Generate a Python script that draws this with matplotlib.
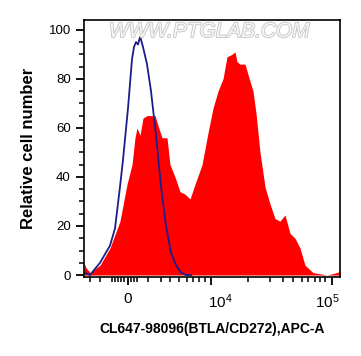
import matplotlib
matplotlib.use("Agg")
import matplotlib.pyplot as plt
import matplotlib.patheffects as pe
from matplotlib.transforms import ScaledTranslation

plt.rcParams["font.family"] = ["Liberation Sans", "DejaVu Sans"]
plt.rcParams["mathtext.default"] = "regular"

# ─────────────────────────────────────────────────────────────────────────────
# Histogram data (x in display channels, 0..256)
RED_X = [0, 2, 6, 16, 26, 36, 43, 48, 51, 53, 56, 59, 63, 71, 74, 78, 83, 86,
         91, 96, 101, 106, 111, 118, 124, 129, 134, 139, 143, 148, 151, 153,
         156, 161, 166, 169, 172, 176, 181, 186, 191, 196, 201, 206, 211, 216,
         221, 229, 243, 253, 256]
RED_Y = [5, 3, 1, 4, 11, 22, 37, 45, 56, 60, 57, 64, 65, 65, 61, 56, 56, 45,
         40, 34, 33, 31, 37, 45, 58, 68, 75, 80, 89, 90, 91, 87,
         86, 86, 79, 75, 66, 50, 36, 29, 23, 22, 24.5, 17, 15, 11,
         4, 1, 0, 1, 1.5]

BLUE_X = [0, 6, 16, 26, 31, 36, 39, 44, 48, 50, 52, 54, 56, 57, 59, 63, 67,
          72, 77, 82, 87, 92, 97, 102, 107]
BLUE_Y = [1, 0, 5, 12, 19, 36, 47, 68, 88, 93, 95, 94, 97, 96, 93, 86, 75,
          57, 36, 20, 9, 4, 1, 0, 0]

MAJOR_POS = [44, 127, 248]
MAJOR_LABELS = ["0", r"$10^4$", r"$10^5$"]
LABEL_SHIFT = [0, 9, -5]   # px offsets of the tick labels, as in the original
MINOR_POS = [6, 16, 28, 31, 34, 37, 40, 47, 50, 53, 64, 77, 86, 95, 103, 109,
             115, 121, 164, 186, 199, 209, 218, 224, 231, 236, 241]
# ─────────────────────────────────────────────────────────────────────────────

fig = plt.figure(figsize=(3.61, 3.56), dpi=100)
ax = fig.add_axes([84 / 361, 79 / 356, 256 / 361, 257 / 356])

ax.fill_between(RED_X, RED_Y, 0, color="#ff0000", linewidth=0)
ax.plot(BLUE_X, BLUE_Y, color="#1c1c8a", linewidth=1.3)

ax.set_xlim(0, 256)
ax.set_ylim(-0.8, 104)

ax.set_xticks(MAJOR_POS)
ax.set_xticklabels(MAJOR_LABELS)
ax.set_xticks(MINOR_POS, minor=True)
ax.set_yticks([0, 20, 40, 60, 80, 100])
ax.set_yticks(range(0, 105, 5), minor=True)

ax.tick_params(axis="both", which="major", length=6, width=1.3,
               labelsize=9.5, direction="out")
ax.tick_params(axis="both", which="minor", length=3.5, width=1.1,
               direction="out")
ax.tick_params(axis="x", pad=5, labelsize=11)

for lab, dx in zip(ax.get_xticklabels(), LABEL_SHIFT):
    lab.set_transform(lab.get_transform() +
                      ScaledTranslation(dx / 100, 0, fig.dpi_scale_trans))

for sp in ax.spines.values():
    sp.set_linewidth(1.2)

ax.set_xlabel("CL647-98096(BTLA/CD272),APC-A", fontsize=10, fontweight="bold",
              labelpad=8)
ax.set_ylabel("Relative cell number", fontsize=12, fontweight="bold",
              labelpad=9)

wm = ax.text(0.49, 0.955, "WWW.PTGLAB.COM", transform=ax.transAxes,
             ha="center", va="center", fontsize=15, color="#f6f6f6",
             style="italic")
wm.set_path_effects([pe.Stroke(linewidth=1.2, foreground="#c4c4c4"),
                     pe.Normal()])

plt.savefig("out.png", dpi=100)
